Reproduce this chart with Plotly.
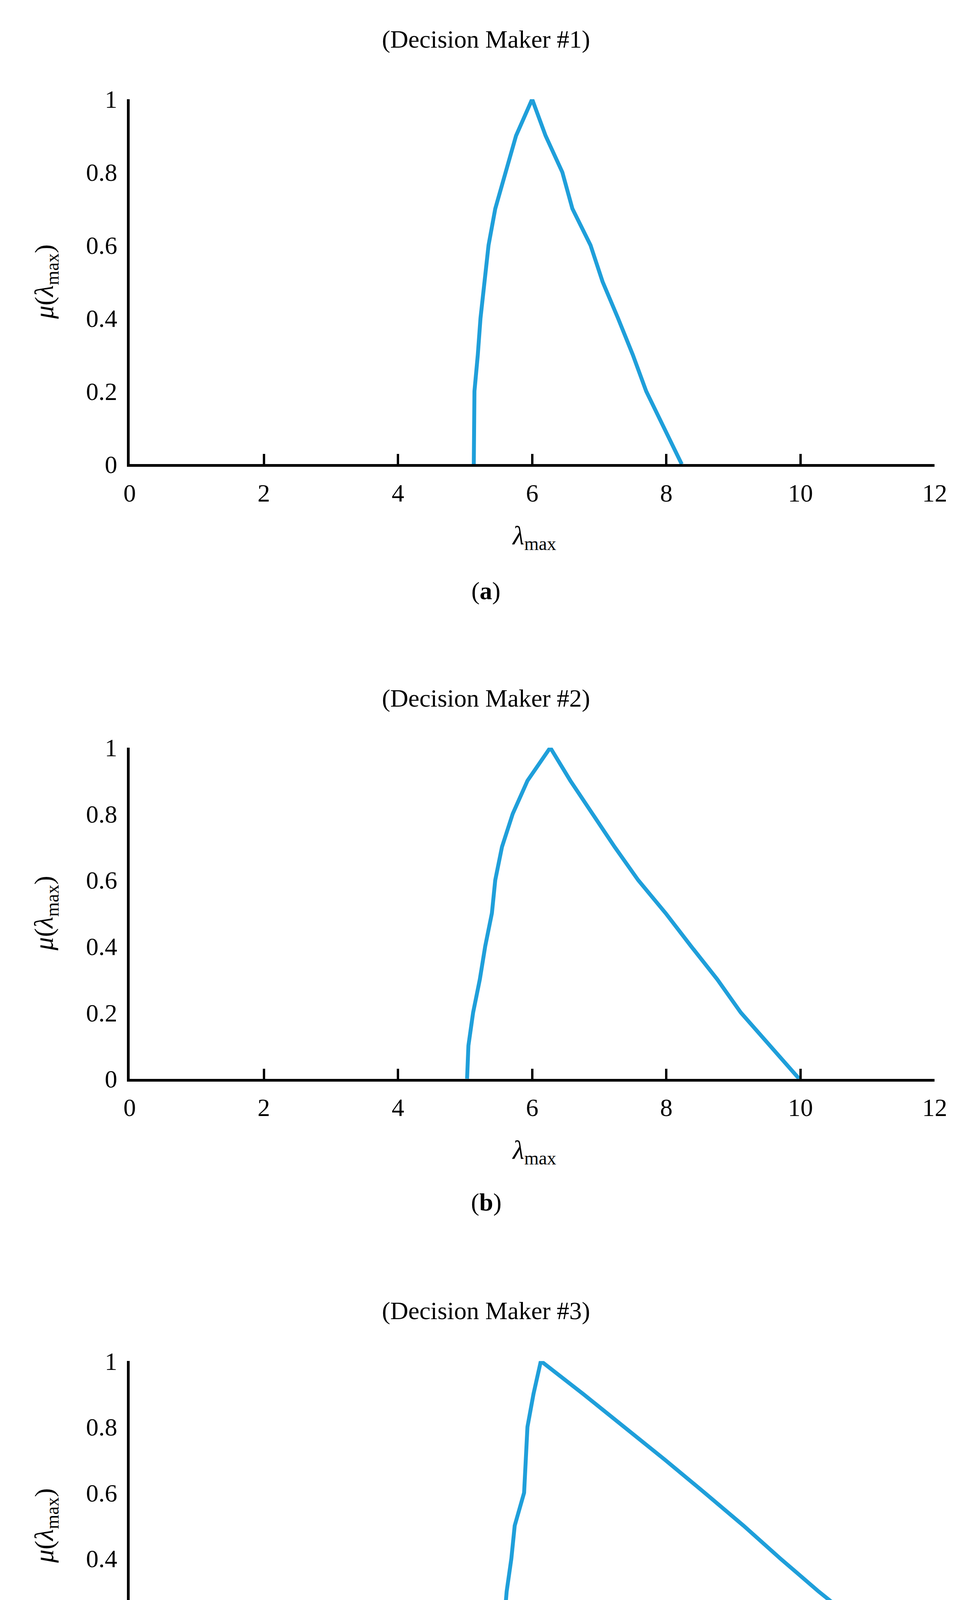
import plotly.graph_objects as go

# membership levels
mu = [0, 0.1, 0.2, 0.3, 0.4, 0.5, 0.6, 0.7, 0.8, 0.9, 1.0]

# decision maker #1
dm1_left = [5.13, 5.13, 5.14, 5.19, 5.23, 5.29, 5.35, 5.45, 5.60, 5.76, 6.00]
dm1_right = [8.23, 7.97, 7.70, 7.50, 7.28, 7.05, 6.87, 6.60, 6.45, 6.20, 6.00]
# decision maker #2
dm2_left = [5.03, 5.05, 5.12, 5.22, 5.30, 5.40, 5.45, 5.55, 5.71, 5.93, 6.27]
dm2_right = [9.98, 9.55, 9.11, 8.76, 8.37, 7.99, 7.58, 7.23, 6.90, 6.57, 6.27]
# decision maker #3
dm3_left = [5.44, 5.52, 5.58, 5.62, 5.69, 5.74, 5.88, 5.91, 5.93, 6.02, 6.13]
dm3_right = [12.0, 11.45, 10.88, 10.27, 9.70, 9.15, 8.57, 7.98, 7.38, 6.76, 6.13]

titles = ['(Decision Maker #1)', '(Decision Maker #2)', '(Decision Maker #3)']
letters = ['a', 'b', 'c']
x_ticks = [0, 2, 4, 6, 8, 10, 12]
y_ticks = [0, 0.2, 0.4, 0.6, 0.8, 1]

H = 4980
W = 2489
font = 'Liberation Serif'
blue = '#1f9fda'

# pixel layout of each panel: (top of y=1, bottom y=0, title y, label y)
panels = [(214, 1162, 58, 1491), (1898, 2758, 1770, 3078), (3491, 4346, 3360, 4675)]
series = [(dm1_left, dm1_right), (dm2_left, dm2_right), (dm3_left, dm3_right)]

fig = go.Figure()
ann = []
x0, x1 = 314 / W, 2416 / W


def label(text, x, y, size=64, angle=0):
    return dict(text=text, x=x / W, y=1 - y / H, xref='paper', yref='paper',
                xanchor='center', yanchor='middle', showarrow=False, textangle=angle,
                font=dict(family=font, size=size, color='black'))


for i, ((top, bot, ty, ly), (lft, rgt)) in enumerate(zip(panels, series)):
    n = '' if i == 0 else str(i + 1)
    xs = lft + rgt[::-1][1:]
    ys = mu + mu[::-1][1:]
    fig.add_trace(go.Scatter(x=xs, y=ys, mode='lines', line=dict(color=blue, width=10),
                             xaxis='x' + n, yaxis='y' + n, showlegend=False))
    axis = dict(showline=True, linecolor='black', linewidth=7, ticks='inside', ticklen=26,
                tickwidth=6, tickcolor='black', showgrid=False, zeroline=False,
                tickfont=dict(family=font, size=64, color='black'))
    fig.update_layout({
        'xaxis' + n: dict(axis, domain=[x0, x1], range=[0, 12], tickvals=x_ticks,
                          anchor='y' + n, ticklabelstandoff=12),
        'yaxis' + n: dict(axis, domain=[1 - bot / H, 1 - top / H], range=[0, 1],
                          tickvals=y_ticks, ticktext=['0', '0.2', '0.4', '0.6', '0.8', '1'],
                          anchor='x' + n, ticks='', ticklabelstandoff=12),
    })
    ann.append(label(titles[i], 1245, ty))
    ann.append(label('<i>λ</i><sub>max</sub>', 1370, bot + 190, 68))
    ann.append(label('(<b>%s</b>)' % letters[i], 1245, ly))
    ann.append(label('<i>μ</i>(<i>λ</i><sub>max</sub>)', 95, (top + bot) / 2, 68, -90))

fig.update_layout(width=W, height=H, margin=dict(l=0, r=0, t=0, b=0),
                  plot_bgcolor='white', paper_bgcolor='white', annotations=ann)
fig.write_html('out.html')
